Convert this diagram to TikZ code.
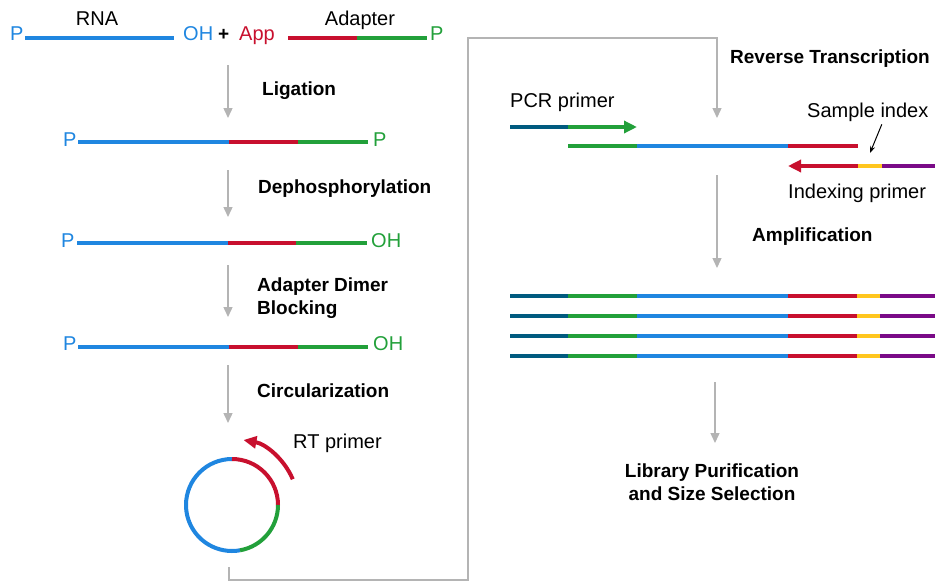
\documentclass[tikz,border=0pt]{standalone}
\usepackage{fontspec}
\setmainfont{Liberation Sans}
\usetikzlibrary{arrows.meta,positioning}

\definecolor{rnablue}{HTML}{1F86E0}
\definecolor{adred}{HTML}{C8102E}
\definecolor{adgreen}{HTML}{22A03A}
\definecolor{pcrteal}{HTML}{005B7F}
\definecolor{idxyellow}{HTML}{FFC61E}
\definecolor{idxpurple}{HTML}{7A0A87}
\definecolor{flowgray}{HTML}{B4B4B4}

\begin{document}
\begin{tikzpicture}[x=1pt,y=1pt
		,every node/.append style={inner sep=0pt, font=\fontsize{20}{23}\selectfont}
		,tag/.style={anchor=base west}
		,lbl/.style={anchor=base west, align=left, font=\fontsize{19}{23}\selectfont\bfseries}
		,seg/.style={line width=4pt}
		,flow/.style={draw=flowgray, line width=1.4pt, -{Triangle[width=9pt,length=10pt]}}
		,tip/.style={-{Triangle[width=12pt,length=13pt]}}
	]
		\useasboundingbox (0,0) rectangle (935,-582);

		% RNA + adapter
		\node [tag, rnablue] (p0) at (10,-40) {P};
		\draw [seg, rnablue] (25,-38) -- (174,-38);
		\node [anchor=base] (rna) at (97,-25) {RNA};
		\node [tag, rnablue] (oh0) at (183,-40) {OH};
		\node [tag, font=\fontsize{19}{23}\selectfont\bfseries] (plus) at (218,-40) {+};
		\node [tag, adred] (app) at (239,-40) {App};
		\draw [seg, adred] (288,-38) -- (357,-38);
		\draw [seg, adgreen] (357,-38) -- (427,-38);
		\node [anchor=base] (adp) at (360,-25) {Adapter};
		\node [tag, adgreen] (p0g) at (430,-40) {P};

		% ligated
		\node [tag, rnablue] (p1) at (63,-146) {P};
		\draw [seg, rnablue] (78,-142) -- (229,-142);
		\draw [seg, adred] (229,-142) -- (298,-142);
		\draw [seg, adgreen] (298,-142) -- (368,-142);
		\node [tag, adgreen] (p1g) at (373,-146) {P};

		% dephosphorylated
		\node [tag, rnablue] (p2) at (61,-247) {P};
		\draw [seg, rnablue] (77,-243) -- (228,-243);
		\draw [seg, adred] (228,-243) -- (296,-243);
		\draw [seg, adgreen] (296,-243) -- (367,-243);
		\node [tag, adgreen] (oh2) at (371,-247) {OH};

		% blocked
		\node [tag, rnablue] (p3) at (63,-350) {P};
		\draw [seg, rnablue] (78,-347) -- (229,-347);
		\draw [seg, adred] (229,-347) -- (298,-347);
		\draw [seg, adgreen] (298,-347) -- (368,-347);
		\node [tag, adgreen] (oh3) at (373,-350) {OH};

		% circle
		\coordinate (ring) at (232,-505);
		\draw [seg, rnablue] ([shift={(90:46pt)}]ring) arc [start angle=90, end angle=280, radius=46pt];
		\draw [seg, adred] ([shift={(0:46pt)}]ring) arc [start angle=0, end angle=90, radius=46pt];
		\draw [seg, adgreen] ([shift={(-80:46pt)}]ring) arc [start angle=-80, end angle=0, radius=46pt];
		\draw [seg, adred, tip] ([shift={(23:66pt)}]ring) arc [start angle=23, end angle=80, radius=66pt];
		\node [tag] (rt) at (293,-448) {RT primer};

		% step labels
		\node [lbl] (lig) at (262,-95) {Ligation};
		\node [lbl] (deph) at (258,-193) {Dephosphorylation};
		\node [lbl] (block) at (257,-314) {Adapter Dimer\\Blocking};
		\node [lbl] (circ) at (257,-397) {Circularization};
		\node [lbl] (rtx) at (730,-63) {Reverse Transcription};
		\node [lbl] (amp) at (752,-241) {Amplification};
		\node [lbl, anchor=base, align=center] (lib) at (712,-500) {Library Purification\\and Size Selection};

		% flow arrows
		\coordinate (f1s) at (228,-65);  \coordinate (f1e) at (228,-118);
		\coordinate (f2s) at (228,-170); \coordinate (f2e) at (228,-217);
		\coordinate (f3s) at (228,-265); \coordinate (f3e) at (228,-317);
		\coordinate (f4s) at (228,-365); \coordinate (f4e) at (228,-423);
		\coordinate (f5s) at (229,-567); \coordinate (f5e) at (717,-118);
		\coordinate (f6s) at (717,-175); \coordinate (f6e) at (717,-268);
		\coordinate (f7s) at (715,-382); \coordinate (f7e) at (715,-443);
		\draw [flow] (f1s) -- (f1e);
		\draw [flow] (f2s) -- (f2e);
		\draw [flow] (f3s) -- (f3e);
		\draw [flow] (f4s) -- (f4e);
		\draw [flow] (f5s) |- (468,-580) |- (f5e |- 0,-38) -- (f5e);
		\draw [flow] (f6s) -- (f6e);
		\draw [flow] (f7s) -- (f7e);

		% reverse transcription
		\node [tag] (pcr) at (510,-107) {PCR primer};
		\draw [seg, pcrteal] (510,-127) -- (568,-127);
		\draw [seg, adgreen, tip] (568,-127) -- (637,-127);
		\draw [seg, adgreen] (568,-146) -- (637,-146);
		\draw [seg, rnablue] (637,-146) -- (788,-146);
		\draw [seg, adred] (788,-146) -- (858,-146);
		\draw [seg, adred, tip] (858,-166) -- (788,-166);
		\draw [seg, idxyellow] (858,-166) -- (882,-166);
		\draw [seg, idxpurple] (882,-166) -- (935,-166);
		\node [tag] (sidx) at (807,-117) {Sample index};
		\coordinate (sidxe) at (870,-153);
		\draw [line width=1pt, -{Stealth[length=7pt,width=5pt]}] ([xshift=14pt,yshift=-3pt]sidx.south) -- (sidxe);
		\node [tag] (iprim) at (788,-198) {Indexing primer};

		% amplicons
		\foreach \y [count=\i] in {296,316,336,356} {
			\draw [seg, pcrteal] (510,-\y) -- (568,-\y);
			\draw [seg, adgreen] (568,-\y) -- (637,-\y);
			\draw [seg, rnablue] (637,-\y) -- (788,-\y);
			\draw [seg, adred] (788,-\y) -- (857,-\y);
			\draw [seg, idxyellow] (857,-\y) -- (880,-\y);
			\draw [seg, idxpurple] (880,-\y) -- (935,-\y);
		}
	\end{tikzpicture}
\end{document}
